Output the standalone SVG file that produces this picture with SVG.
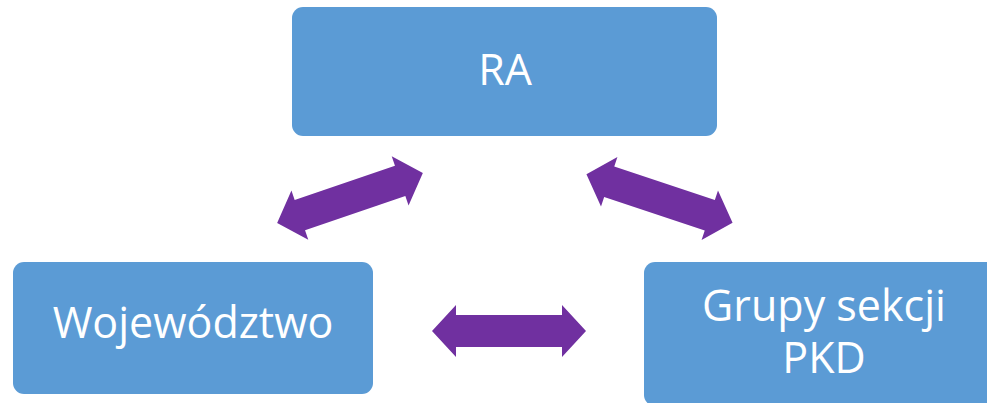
<svg xmlns="http://www.w3.org/2000/svg" width="987" height="403" viewBox="0 0 987 403">
<style>
.box{fill:#5B9BD5}
.lbl{fill:#FFFFFF;font-family:"Open Sans","Noto Sans",sans-serif;font-size:43px;text-anchor:middle}
.arr{fill:#7030A0}
</style>
<defs>
<path id="dbl" d="M -77,0 L -53,-26 L -53,-16 L 53,-16 L 53,-26 L 77,0 L 53,26 L 53,16 L -53,16 L -53,26 Z"/>
</defs>
<rect width="987" height="403" fill="#FFFFFF"/>
<g id="connectors">
<use href="#dbl" class="arr" transform="translate(350,198) rotate(-18.9)"/>
<use href="#dbl" class="arr" transform="translate(659.5,198.5) rotate(18.4)"/>
<use href="#dbl" class="arr" transform="translate(509,331)"/>
</g>
<g id="ra">
<rect class="box" x="292" y="7" width="425" height="129" rx="11"/>
<text class="lbl" x="505" y="85">RA</text>
</g>
<g id="wojewodztwo">
<rect class="box" x="13" y="262" width="360" height="132" rx="11"/>
<text class="lbl" x="193" y="338">Województwo</text>
</g>
<g id="grupy">
<rect class="box" x="644" y="262" width="360" height="144" rx="11"/>
<text class="lbl" x="824" y="321">Grupy sekcji</text>
<text class="lbl" x="824" y="373">PKD</text>
</g>
</svg>
